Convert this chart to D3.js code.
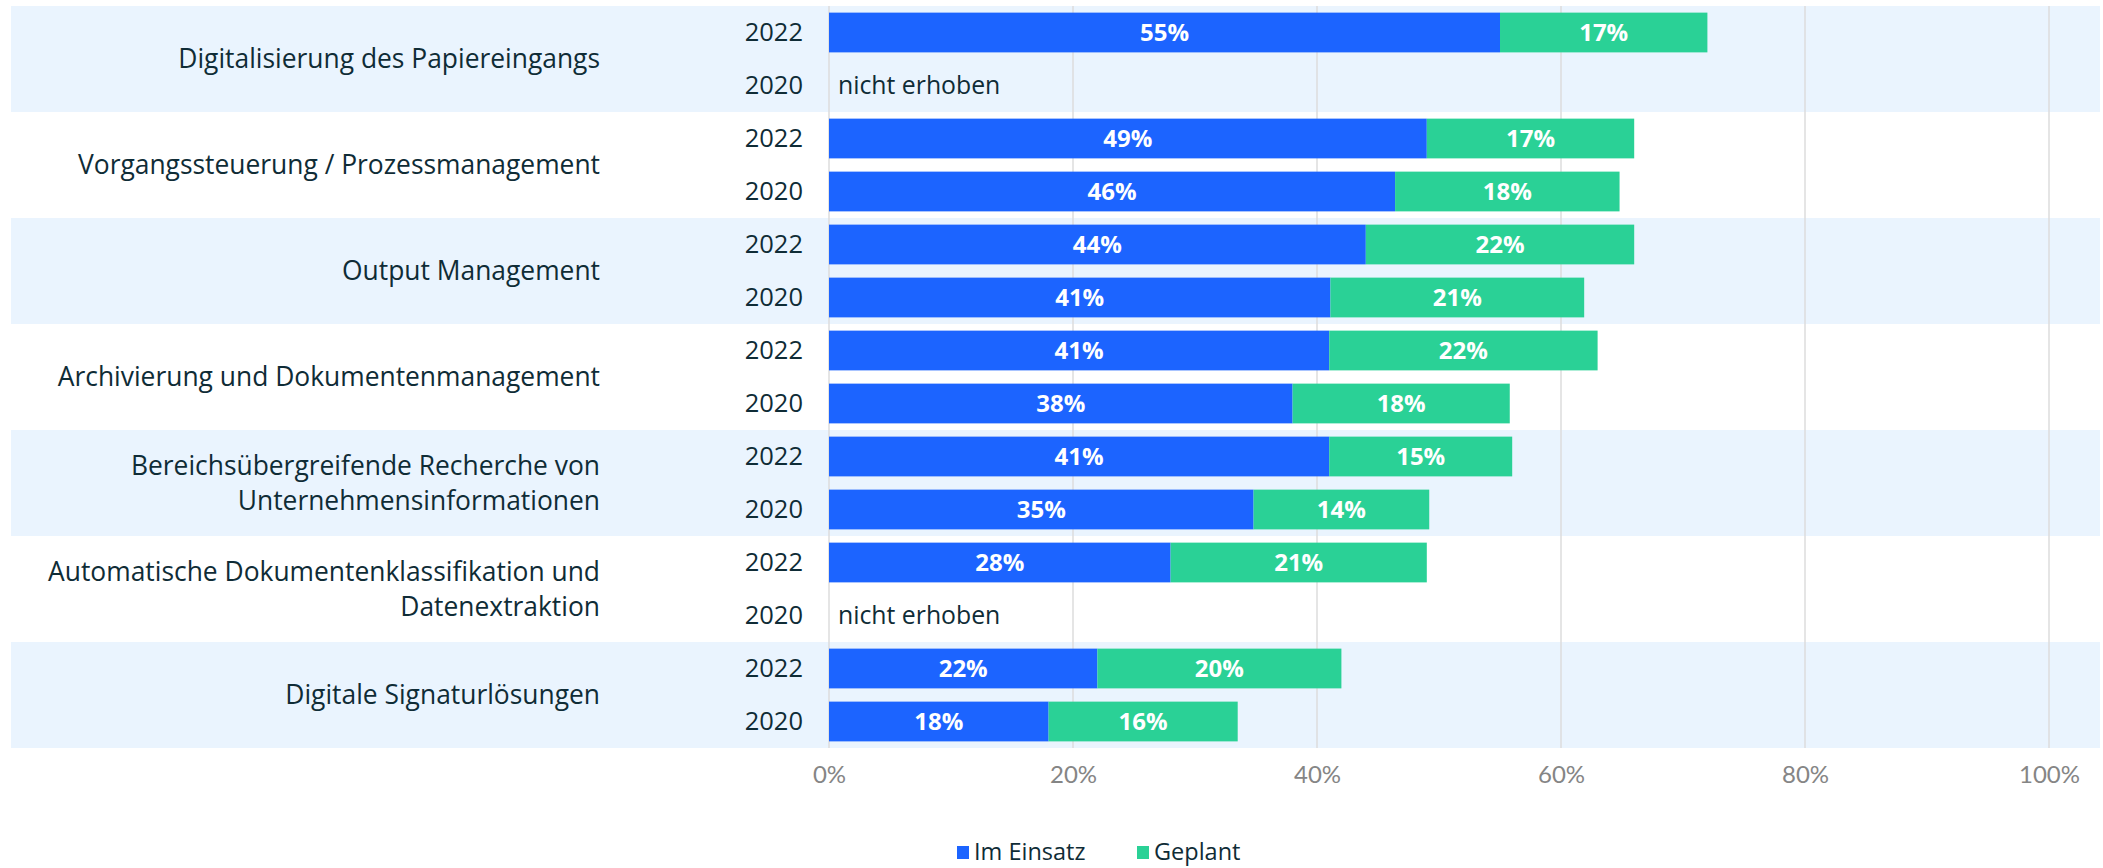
<!DOCTYPE html>
<html><head><meta charset="utf-8">
<script src="https://cdn.jsdelivr.net/npm/d3@7"></script>
<style>
html,body{margin:0;padding:0;background:#fff;}
svg{display:block;font-family:"Open Sans",sans-serif;}
</style></head>
<body><svg id="c" width="2103" height="868"></svg>
<script>
const categories = [
  ["Digitalisierung des Papiereingangs"],
  ["Vorgangssteuerung / Prozessmanagement"],
  ["Output Management"],
  ["Archivierung und Dokumentenmanagement"],
  ["Bereichsübergreifende Recherche von", "Unternehmensinformationen"],
  ["Automatische Dokumentenklassifikation und", "Datenextraktion"],
  ["Digitale Signaturlösungen"]
];
const years = ["2022", "2020"];
// values per category: [2022, 2020]; null = nicht erhoben
const imEinsatz = [[55, null], [49, 46.4], [44, 41.1], [41, 38], [41, 34.8], [28, null], [22, 18]];
const geplant   = [[17, null], [17, 18.4], [22, 20.8], [22, 17.8], [15, 14.4], [21, null], [20, 15.5]];
const xTicks = [0, 20, 40, 60, 80, 100];
const seriesNames = ["Im Einsatz", "Geplant"];
const colors = {"Im Einsatz": "#1C64FF", "Geplant": "#2AD196"};
const missingText = "nicht erhoben";

(function () {
const svg = d3.select("#c");
const pLeft = 829, pRight = 2049, pTop = 6, pBottom = 748;
const textCol = "#0F2C36";
const x = d3.scaleLinear().domain([0, 100]).range([pLeft, pRight]);
const yGroup = d3.scaleBand().domain(d3.range(categories.length)).range([pTop, pBottom]).padding(0);
const yRow = d3.scaleBand().domain(years).range([0, yGroup.bandwidth()]).paddingInner(0.25).paddingOuter(0.125);

// bands
svg.append("g").selectAll("rect").data(categories).join("rect")
  .attr("x", 11).attr("width", 2100 - 11)
  .attr("y", (d, i) => yGroup(i)).attr("height", yGroup.bandwidth())
  .attr("fill", (d, i) => i % 2 === 0 ? "#EAF4FE" : "#FFFFFF");

// gridlines
svg.append("g").selectAll("line").data(xTicks).join("line")
  .attr("x1", d => x(d)).attr("x2", d => x(d)).attr("y1", pTop).attr("y2", pBottom)
  .attr("stroke", "#DCDCDC").attr("stroke-width", 1.5);

// axis labels
const ax = svg.append("g").attr("transform", `translate(0,${pBottom})`)
  .call(d3.axisBottom(x).tickValues(xTicks).tickFormat(d => d + "%").tickSize(0).tickPadding(18));
ax.select(".domain").remove();
ax.selectAll("text").attr("font-size", 24).attr("fill", "#858585").attr("font-family", "Lato, sans-serif");

// category labels
const catG = svg.append("g");
categories.forEach((lines, i) => {
  const cy = yGroup(i) + yGroup.bandwidth() / 2;
  const lh = 35;
  const t = catG.append("text").attr("text-anchor", "end").attr("font-size", 26.4).attr("fill", textCol);
  lines.forEach((ln, j) => {
    t.append("tspan").attr("x", 600).attr("y", cy + (j - (lines.length - 1) / 2) * lh).attr("dy", "0.35em").text(ln);
  });
});

// rows
categories.forEach((c, i) => {
  years.forEach((yr, k) => {
    const ry = yGroup(i) + yRow(yr);
    const rh = yRow.bandwidth();
    svg.append("text").attr("x", 803).attr("y", ry + rh / 2).attr("dy", "0.35em")
      .attr("text-anchor", "end").attr("font-size", 25.5).attr("fill", textCol).text(yr);
    const a = imEinsatz[i][k], b = geplant[i][k];
    if (a === null) {
      svg.append("text").attr("x", x(0) + 9).attr("y", ry + rh / 2).attr("dy", "0.35em")
        .attr("font-size", 24.8).attr("fill", textCol).text(missingText);
      return;
    }
    const segs = [{n: "Im Einsatz", x0: 0, x1: a, v: a}, {n: "Geplant", x0: a, x1: a + b, v: b}];
    segs.forEach(s => {
      svg.append("rect").attr("x", x(s.x0)).attr("width", x(s.x1) - x(s.x0))
        .attr("y", ry).attr("height", rh).attr("fill", colors[s.n]);
      svg.append("text").attr("x", (x(s.x0) + x(s.x1)) / 2).attr("y", ry + rh / 2).attr("dy", "0.35em")
        .attr("text-anchor", "middle").attr("font-size", 24).attr("font-weight", "bold")
        .attr("fill", "#fff").text(Math.round(s.v) + "%");
    });
  });
});

// legend
const lg = svg.append("g");
const legendX = [957, 1137];
seriesNames.forEach((n, i) => {
  lg.append("rect").attr("x", legendX[i]).attr("y", 846).attr("width", 12).attr("height", 13).attr("fill", colors[n]);
  lg.append("text").attr("x", legendX[i] + 17).attr("y", 852).attr("dy", "0.35em")
    .attr("font-size", 23.5).attr("fill", textCol).text(n);
});
})();
</script></body></html>
